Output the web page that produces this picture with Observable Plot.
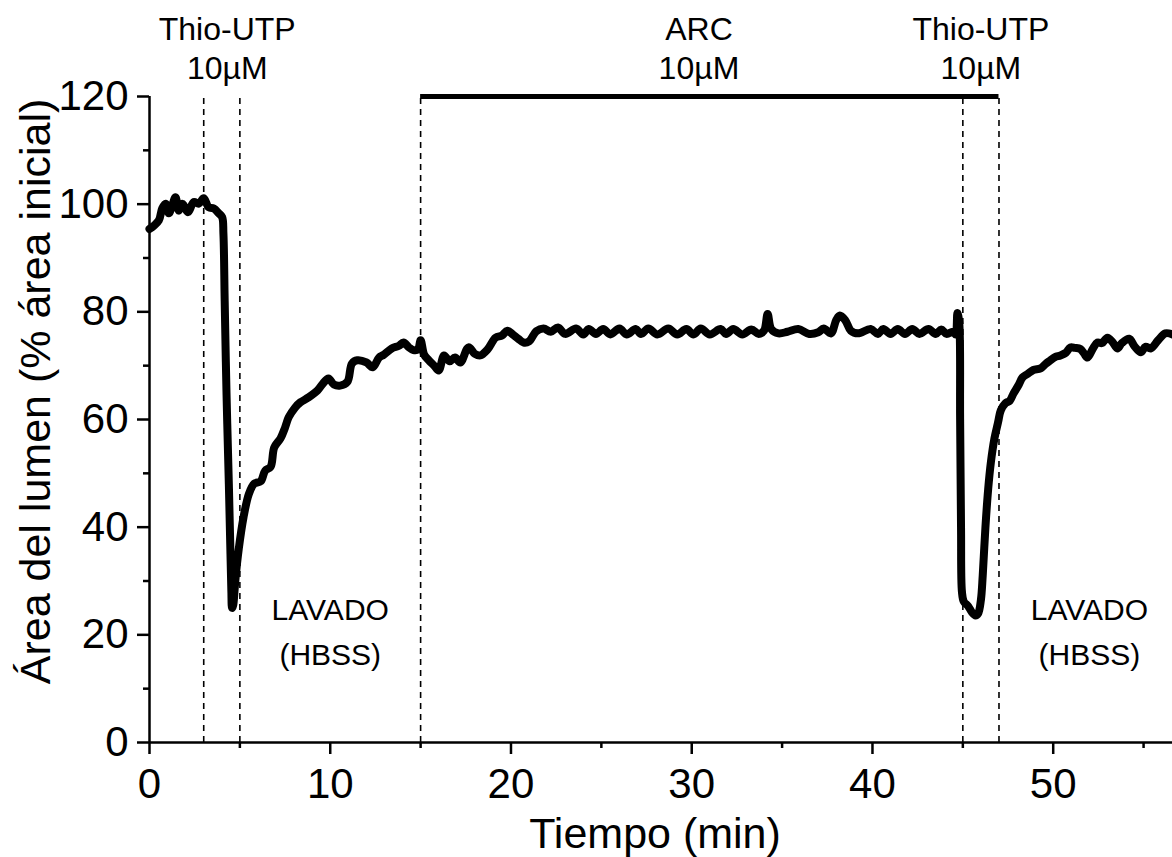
<!DOCTYPE html>
<html>
<head>
<meta charset="utf-8">
<script src="https://cdn.jsdelivr.net/npm/d3@7"></script>
<script src="https://cdn.jsdelivr.net/npm/@observablehq/plot@0.6"></script>
<style>
  html, body { margin: 0; padding: 0; background: #fff; overflow: hidden; }
</style>
</head>
<body>
<script>
// Time (min)
const time = [
  0.0, 0.24, 0.52, 0.70, 0.89, 1.07, 1.25, 1.44, 1.62, 1.81, 2.12, 2.45, 2.73, 3.0, 3.28, 3.56, 3.83, 4.02,
  4.09, 4.16, 4.26, 4.39, 4.48, 4.53, 4.57, 4.63, 4.70, 4.76, 4.94, 5.2, 5.5, 5.8, 6.15, 6.4, 6.7, 6.9,
  7.25, 7.5, 7.7, 8.05, 8.35, 8.8, 9.3, 9.6, 9.9, 10.2, 10.55, 10.95, 11.2, 11.5, 12.0, 12.35, 12.7, 12.95,
  13.4, 13.8, 14.05, 14.35, 14.6, 14.85, 15.0, 15.2, 15.45, 15.75, 16.0, 16.3, 16.6, 16.9, 17.2, 17.65,
  18.0, 18.3, 18.7, 19.15, 19.5, 19.8, 20.1, 20.4, 20.7, 21.0, 21.4, 21.8, 22.2, 22.6, 23.0, 23.6, 24.0,
  24.3, 24.7, 25.1, 25.5, 26.0, 26.4, 26.9, 27.2, 27.6, 28.1, 28.7, 29.2, 29.7, 30.1, 30.5, 31.0, 31.6,
  31.9, 32.3, 32.8, 33.3, 33.7, 34.0, 34.2, 34.4, 34.8, 35.3, 35.9, 36.5, 37.0, 37.3, 37.7, 38.0, 38.2,
  38.5, 38.8, 39.2, 39.9, 40.3, 40.6, 41.0, 41.4, 41.8, 42.2, 42.6, 43.1, 43.5, 43.8, 44.1, 44.45, 44.6,
  44.7, 44.8, 44.85, 44.9, 44.95, 45.05, 45.3, 45.5, 45.7, 45.85, 46.0, 46.1, 46.25, 46.4, 46.55, 46.75,
  46.95, 47.1, 47.35, 47.6, 47.8, 48.1, 48.3, 48.6, 48.9, 49.3, 49.6, 49.85, 50.1, 50.4, 50.7, 50.95,
  51.2, 51.5, 51.7, 51.9, 52.2, 52.45, 52.7, 53.0, 53.3, 53.55, 53.8, 54.2, 54.5, 54.85, 55.1, 55.4,
  55.8, 56.2, 56.6
];
// Lumen area (% of initial area)
const area = [
  95.4, 96.0, 97.0, 99.2, 100.1, 98.3, 99.7, 101.3, 98.8, 100.1, 98.5, 100.4, 100.1, 101.1, 99.4, 99.2, 98.3, 97.6,
  94.5, 82, 65, 48, 35, 28, 25.0, 25.5, 28, 30.5, 36, 41.8, 46.2, 48.1, 48.5, 50.5, 51.2, 54.8,
  56.5, 58.5, 60.4, 62.2, 63.2, 64.1, 65.4, 66.7, 67.6, 66.5, 66.3, 67.0, 70.4, 71.0, 70.6, 69.7, 71.5, 72.0,
  73.2, 73.7, 74.3, 73.4, 72.9, 73.0, 74.7, 72.0, 71.0, 70.0, 69.1, 71.9, 70.8, 71.5, 70.6, 73.4,
  72.2, 71.9, 73.0, 75.2, 75.6, 76.5, 75.8, 75.0, 74.3, 74.5, 76.4, 76.9, 76.3, 77.1, 75.9, 76.9, 75.8,
  76.8, 75.9, 76.8, 75.8, 76.9, 75.8, 76.8, 75.9, 76.9, 75.8, 76.9, 75.8, 76.8, 75.8, 76.9, 75.8, 76.8,
  75.9, 76.8, 75.8, 76.7, 75.9, 76.5, 79.6, 76.8, 76.0, 76.3, 76.8, 75.9, 76.2, 76.9, 76.0, 78.5, 79.3,
  78.4, 76.5, 76.0, 76.8, 75.9, 76.8, 75.9, 76.8, 75.9, 76.8, 75.9, 76.8, 75.9, 76.7, 75.9, 76.3, 75.8,
  79.8, 78, 60, 40, 28, 26.2, 25.3, 24.2, 23.6, 24.0, 26.5, 31, 40, 47, 52, 56.5,
  59.5, 61.7, 63, 63.5, 64.8, 66.5, 67.8, 68.5, 69.2, 69.5, 70.4, 71.0, 71.6, 71.9, 72.4, 73.4,
  73.3, 73.1, 72.3, 71.5, 73.2, 74.3, 74.2, 75.2, 74.3, 73.2, 74.2, 75.0, 73.6, 72.5, 73.5, 73.2,
  74.7, 76.0, 75.8
];

// Axis ticks
const xMajorTicks = [0, 10, 20, 30, 40, 50];
const xMinorTicks = [5, 15, 25, 35, 45, 55];
const yMajorTicks = [0, 20, 40, 60, 80, 100, 120];
const yMinorTicks = [10, 30, 50, 70, 90, 110];

// Event markers (min)
const markerTimes = [3, 5, 15, 45, 47];
const arcStart = [15];
const arcEnd = [47];

// Annotations
const topLabelX = [4.3, 30.4, 46.0];
const topLabelText = ["Thio-UTP\n10µM", "ARC\n10µM", "Thio-UTP\n10µM"];
const washLabelX = [10.0, 52.0];
const washLabelText = ["LAVADO\n(HBSS)", "LAVADO\n(HBSS)"];

const xTitle = "Tiempo (min)";
const yTitle = "Área del lumen (% área inicial)";

const series = time.map((t, i) => ({t, v: area[i]}));
const arcBar = arcStart.map((s, i) => ({s, e: arcEnd[i], y: 120}));
const topLabels = topLabelX.map((x, i) => ({x, text: topLabelText[i]}));
const washLabels = washLabelX.map((x, i) => ({x, text: washLabelText[i]}));

const chart = Plot.plot({
  width: 1172,
  height: 857,
  marginLeft: 149,
  marginRight: 0,
  marginTop: 96,
  marginBottom: 115,
  x: {domain: [0, 56.6]},
  y: {domain: [0, 120]},
  style: {
    fontFamily: "'Liberation Sans', Arial, sans-serif",
    background: "#fff",
    color: "#000",
    overflow: "visible"
  },
  marks: [
    Plot.ruleX(markerTimes, {y1: 0, y2: 120, stroke: "#000", strokeWidth: 1.6, strokeDasharray: "6,5"}),
    Plot.ruleY(arcBar, {y: "y", x1: "s", x2: "e", stroke: "#000", strokeWidth: 5}),
    Plot.line(series, {x: "t", y: "v", stroke: "#000", strokeWidth: 8, curve: "catmull-rom", strokeLinejoin: "round", strokeLinecap: "round"}),
    Plot.ruleY([0], {stroke: "#000", strokeWidth: 2.5}),
    Plot.ruleX([0], {stroke: "#000", strokeWidth: 2.5}),
    Plot.axisX(xMajorTicks, {tickSize: 12, tickPadding: 14, fontSize: 42, strokeWidth: 2.5, label: null}),
    Plot.axisX(xMinorTicks, {tickSize: 6, tickFormat: () => "", strokeWidth: 2.5, label: null}),
    Plot.axisY(yMajorTicks, {tickSize: 12, tickPadding: 9, fontSize: 42, strokeWidth: 2.5, label: null}),
    Plot.axisY(yMinorTicks, {tickSize: 6, tickFormat: () => "", strokeWidth: 2.5, label: null}),
    Plot.text(topLabels, {x: "x", text: "text", frameAnchor: "top", lineAnchor: "bottom", dy: -18, fontSize: 32, lineHeight: 1.19, fill: "#000"}),
    Plot.text(washLabels, {x: "x", text: "text", frameAnchor: "bottom", lineAnchor: "bottom", dy: -78, fontSize: 30, lineHeight: 1.47, fill: "#000"}),
    Plot.text([xTitle], {text: d => d, frameAnchor: "bottom", lineAnchor: "bottom", textAnchor: "middle", dx: -6, dy: 105, fontSize: 43, fill: "#000"}),
    Plot.text([yTitle], {text: d => d, frameAnchor: "left", rotate: -90, textAnchor: "middle", lineAnchor: "bottom", dx: -100, dy: -28, fontSize: 43, fill: "#000"})
  ]
});
document.body.appendChild(chart);
</script>
</body>
</html>
